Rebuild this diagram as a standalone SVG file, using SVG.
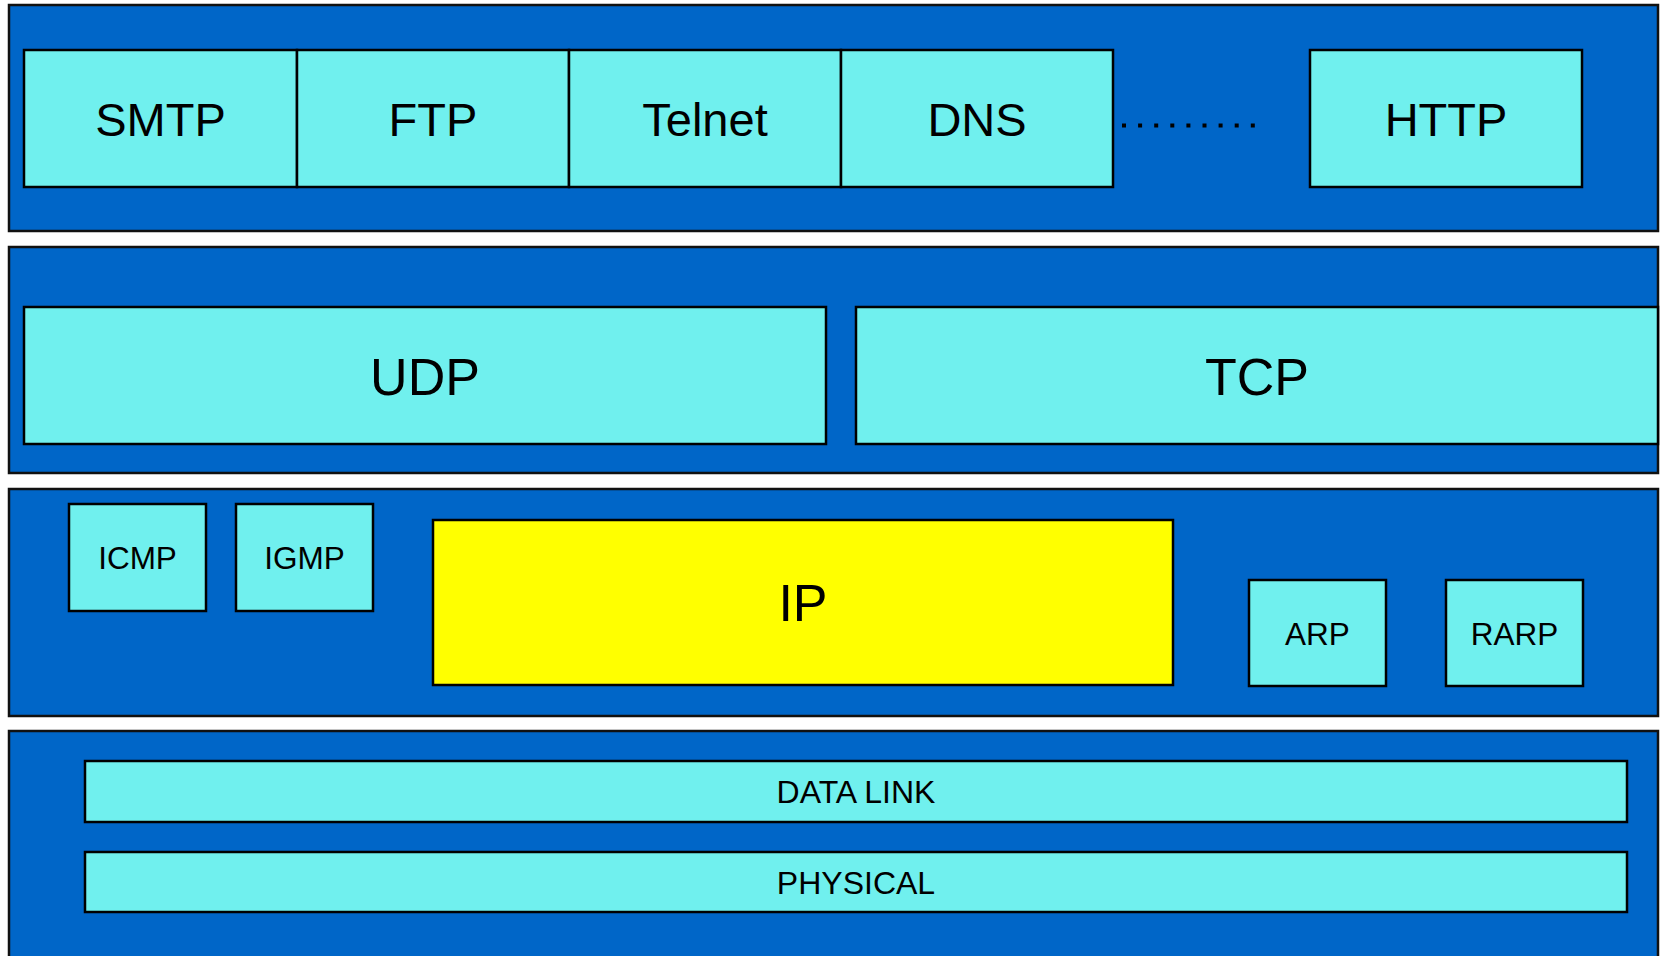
<svg xmlns="http://www.w3.org/2000/svg" width="1663" height="956" viewBox="0 0 1663 956">
<style>
.layer{fill:#0066C8;stroke:#111;stroke-width:2.5}
.box{fill:#70F0EE;stroke:#000;stroke-width:2.5}
.ip{fill:#FFFF00;stroke:#000;stroke-width:2.5}
text{font-family:"Liberation Sans",Arial,sans-serif;fill:#000;text-anchor:middle}
.t1{font-size:47px}
.t2{font-size:52px}
.t3{font-size:31.5px}
.t4{font-size:32px}
</style>
<rect width="1663" height="956" fill="#fff"/>
<g id="application-layer">
<rect class="layer" x="9" y="5" width="1649" height="226"/>
</g>
<g id="transport-layer">
<rect class="layer" x="9" y="247" width="1649" height="226"/>
</g>
<g id="network-layer">
<rect class="layer" x="9" y="489" width="1649" height="227"/>
</g>
<g id="link-layer">
<rect class="layer" x="9" y="731" width="1649" height="240"/>
</g>
<g id="smtp"><rect class="box" x="24" y="50" width="273" height="137"/><text class="t1" x="160.5" y="136">SMTP</text></g>
<g id="ftp"><rect class="box" x="297" y="50" width="272" height="137"/><text class="t1" x="433" y="136">FTP</text></g>
<g id="telnet"><rect class="box" x="569" y="50" width="272" height="137"/><text class="t1" x="705" y="136">Telnet</text></g>
<g id="dns"><rect class="box" x="841" y="50" width="272" height="137"/><text class="t1" x="977" y="136">DNS</text></g>
<g id="ellipsis"><line x1="1122" y1="125.5" x2="1258" y2="125.5" stroke="#000" stroke-width="4" stroke-dasharray="4 12.1"/></g>
<g id="http"><rect class="box" x="1310" y="50" width="272" height="137"/><text class="t1" x="1446" y="136">HTTP</text></g>
<g id="udp"><rect class="box" x="24" y="307" width="802" height="137"/><text class="t2" x="425" y="395">UDP</text></g>
<g id="tcp"><rect class="box" x="856" y="307" width="802" height="137"/><text class="t2" x="1257" y="395">TCP</text></g>
<g id="icmp"><rect class="box" x="69" y="504" width="137" height="107"/><text class="t3" x="137.5" y="569">ICMP</text></g>
<g id="igmp"><rect class="box" x="236" y="504" width="137" height="107"/><text class="t3" x="304.5" y="569">IGMP</text></g>
<g id="ip"><rect class="ip" x="433" y="520" width="740" height="165"/><text class="t2" x="803" y="621">IP</text></g>
<g id="arp"><rect class="box" x="1249" y="580" width="137" height="106"/><text class="t3" x="1317.5" y="645">ARP</text></g>
<g id="rarp"><rect class="box" x="1446" y="580" width="137" height="106"/><text class="t3" x="1514.5" y="645">RARP</text></g>
<g id="datalink"><rect class="box" x="85" y="761" width="1542" height="61"/><text class="t4" x="856" y="803">DATA LINK</text></g>
<g id="physical"><rect class="box" x="85" y="852" width="1542" height="60"/><text class="t4" x="856" y="894">PHYSICAL</text></g>
<g id="connectors"></g>
</svg>
